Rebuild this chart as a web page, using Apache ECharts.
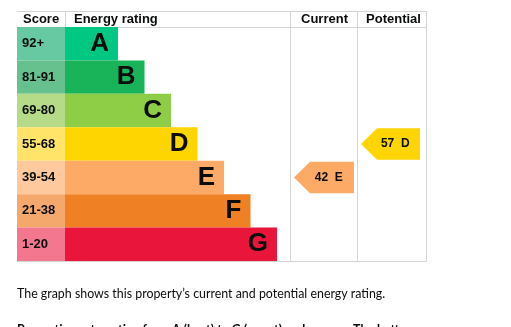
<!DOCTYPE html>
<html>
<head>
<meta charset="utf-8">
<script src="https://cdn.jsdelivr.net/npm/echarts@6/dist/echarts.min.js"></script>
<style>
html,body{margin:0;padding:0;background:#fff;}
#c{width:511px;height:327px;}
</style>
</head>
<body>
<div id="c"></div>
<script>
const bands = ['A','B','C','D','E','F','G'];
const scoreRanges = ['92+','81-91','69-80','55-68','39-54','21-38','1-20'];
const barLengths = [2,3,4,5,6,7,8];
const bandColors = ['#00c781','#19b459','#8dce46','#ffd500','#fcaa65','#ef8023','#e9153b'];
const scoreColors = ['#66c9a1','#66c18e','#b5da88','#ffe469','#fdc99d','#f4a86c','#f2778f'];
const headers = ['Score','Energy rating','Current','Potential'];
const currentRating = {score: 42, band: 'E'};
const potentialRating = {score: 57, band: 'D'};
const caption = 'The graph shows this property\u2019s current and potential energy rating.';
const caption2 = 'Properties get a rating from A (best) to G (worst) and a score. The better the rating and score, the lower your energy bills are likely to be.';

const TOP = 27, BOTTOM = 261, H = BOTTOM - TOP;
const X0 = 17, X1 = 65, X2 = 290, X3 = 357, X4 = 426;
const FONT = '"Liberation Sans", Arial, sans-serif';

const chart = echarts.init(document.getElementById('c'), null, {renderer: 'canvas'});

function catAxis(i){ return {type:'category', gridIndex:i, data:bands, inverse:true, show:false}; }
function valAxis(i, max){ return {type:'value', gridIndex:i, min:0, max:max, show:false}; }

function arrowRender(params, api){
  const row = api.value(0);
  const cy = api.coord([0, row])[1];
  const h = api.size([0, 1])[1];
  const cs = params.coordSys;
  const tipX = cs.x + 4;
  const rightX = cs.x + cs.width - (params.seriesIndex === 2 ? 3 : 6);
  const top = cy - h/2 + 1, bot = cy + h/2 - 1;
  const tipLen = 16;
  const color = bandColors[row];
  return {
    type: 'group',
    children: [
      {type:'polygon', shape:{points:[[tipX, cy],[tipX+tipLen, top],[rightX, top],[rightX, bot],[tipX+tipLen, bot]]}, style:{fill: color}},
      {type:'text', style:{text: api.value(1) + '  ' + bands[row], x: tipX + (rightX - tipX)*0.58, y: cy, align:'center', verticalAlign:'middle', font:'bold 12px ' + FONT, fill:'#0b0c0c'}}
    ]
  };
}

const lineStyle = {stroke:'#d4d4d4', lineWidth:1};
function hline(y, x1, x2){ return {type:'line', shape:{x1:x1, y1:y, x2:x2, y2:y}, style:lineStyle, silent:true}; }
function vline(x, y1, y2){ return {type:'line', shape:{x1:x, y1:y1, x2:x, y2:y2}, style:lineStyle, silent:true}; }

const option = {
  animation: false,
  grid: [
    {left: X0, top: TOP, width: X1 - X0, height: H},
    {left: X1, top: TOP, width: X2 - X1, height: H},
    {left: X2, top: TOP, width: X3 - X2, height: H},
    {left: X3, top: TOP, width: X4 - X3, height: H}
  ],
  xAxis: [valAxis(0, 1), valAxis(1, (X2 - X1)/26.5), valAxis(2, 1), valAxis(3, 1)],
  yAxis: [catAxis(0), catAxis(1), catAxis(2), catAxis(3)],
  series: [
    {
      type:'bar', xAxisIndex:0, yAxisIndex:0, barCategoryGap:'0%',
      data: scoreRanges.map((s, i) => ({value:1, itemStyle:{color: scoreColors[i]}})),
      label:{show:true, position:'insideLeft', distance:5, formatter: p => scoreRanges[p.dataIndex], fontFamily: FONT, fontWeight:'bold', fontSize:13, color:'#0b0c0c'}
    },
    {
      type:'bar', xAxisIndex:1, yAxisIndex:1, barCategoryGap:'0%',
      data: barLengths.map((v, i) => ({value:v, itemStyle:{color: bandColors[i]}})),
      label:{show:true, position:'insideRight', distance:9, formatter: p => bands[p.dataIndex], fontFamily: FONT, fontWeight:'bold', fontSize:26, color:'#0b0c0c'}
    },
    {
      type:'custom', xAxisIndex:2, yAxisIndex:2, renderItem: arrowRender,
      encode:{y:0},
      data: [[bands.indexOf(currentRating.band), currentRating.score]]
    },
    {
      type:'custom', xAxisIndex:3, yAxisIndex:3, renderItem: arrowRender,
      encode:{y:0},
      data: [[bands.indexOf(potentialRating.band), potentialRating.score]]
    }
  ],
  graphic: [
    hline(11.5, X0, X4 + 0.5), hline(27.5, X0, X4 + 0.5), hline(261.5, X0, X4 + 0.5),
    vline(X1 + 0.5, 11, 27), vline(X2 + 0.5, 11, 261), vline(X3 + 0.5, 11, 261), vline(X4 + 0.5, 11, 261),
    {type:'text', style:{text: headers[0], x: 23, y: 19.5, verticalAlign:'middle', font:'bold 13px ' + FONT, fill:'#0b0c0c'}},
    {type:'text', style:{text: headers[1], x: 74, y: 19.5, verticalAlign:'middle', font:'bold 13px ' + FONT, fill:'#0b0c0c'}},
    {type:'text', style:{text: headers[2], x: (X2 + X3)/2 + 1, y: 19.5, align:'center', verticalAlign:'middle', font:'bold 13px ' + FONT, fill:'#0b0c0c'}},
    {type:'text', style:{text: headers[3], x: (X3 + X4)/2 + 2, y: 19.5, align:'center', verticalAlign:'middle', font:'bold 13px ' + FONT, fill:'#0b0c0c'}},
    {type:'text', style:{text: caption, x: 17, y: 294, verticalAlign:'middle', font:'12.4px Lato, sans-serif', fill:'#0b0c0c'}},
    {type:'text', style:{text: caption2, x: 17, y: 320, width: 410, overflow:'break', lineHeight: 20, verticalAlign:'top', font:'bold 12.4px Lato, sans-serif', fill:'#0b0c0c'}}
  ]
};
chart.setOption(option);
</script>
</body>
</html>
